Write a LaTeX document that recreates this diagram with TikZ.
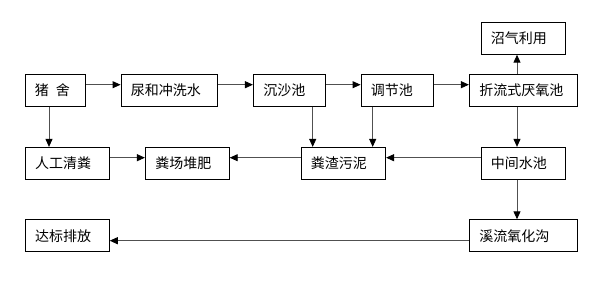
\documentclass[tikz,border=0pt]{standalone}
\usepackage{fontspec}
\newfontfamily\cjk{Noto Sans CJK SC}
\usetikzlibrary{arrows.meta}
\definecolor{linegray}{RGB}{80,80,80}

\begin{document}
\begin{tikzpicture}[x=1pt, y=-1pt, >={Triangle[length=8pt,width=7pt,color=black]},
    box/.style={draw=black, line width=0.8pt, minimum height=32pt, inner xsep=10pt, text width=#1, align=left, font=\cjk\fontsize{14}{16}\selectfont},
    arrow/.style={->, line width=0.9pt, draw=linegray}]

\useasboundingbox (0,0) rectangle (599,299);

% top row
\node [box=40.7pt] (zhushe) at (55.3,90.3) {猪\hspace{0.5em}舍};
\node [box=76.7pt] (niao) at (169.3,90.3) {尿和冲洗水};
\node [box=52.3pt] (chensha) at (289.5,90.3) {沉沙池};
\node [box=52.7pt] (tiaojie) at (397.3,90.3) {调节池};
\node [box=88pt] (yanyang) at (523.3,90.3) {折流式厌氧池};
\node [box=64.7pt] (zhaoqi) at (523.3,38.3) {沼气利用};

% middle row
\node [box=64.3pt] (rengong) at (67.2,163.3) {人工清粪};
\node [box=64pt] (fenchang) at (187.3,163.3) {粪场堆肥};
\node [box=64.7pt] (fenzha) at (343.3,163.3) {粪渣污泥};
\node [box=64.7pt] (zhongjian) at (523.3,163.3) {中间水池};

% bottom row
\node [box=64.3pt] (dabiao) at (67.2,235.7) {达标排放};
\node [box=88pt] (xiliu) at (523.3,235.7) {溪流氧化沟};

\draw [arrow] ([yshift=5.6pt]zhushe.east) -- ([yshift=5.6pt]zhushe.east -| niao.west);
\draw [arrow] ([yshift=5.6pt]niao.east) -- ([yshift=5.6pt]niao.east -| chensha.west);
\draw [arrow] ([yshift=5.6pt]chensha.east) -- ([yshift=5.6pt]chensha.east -| tiaojie.west);
\draw [arrow] ([yshift=5.6pt]tiaojie.east) -- ([yshift=5.6pt]tiaojie.east -| yanyang.west);
\draw [arrow] ([xshift=-6.3pt]yanyang.north) -- ([xshift=-6.3pt]zhaoqi.south);

\draw [arrow] ([xshift=-6.3pt]zhushe.south) -- ([xshift=-6.3pt]zhushe.south |- rengong.north);
\draw [arrow] ([xshift=23.2pt]chensha.south) -- ([xshift=23.2pt]chensha.south |- fenzha.north);
\draw [arrow] ([xshift=-24.6pt]tiaojie.south) -- ([xshift=-24.6pt]tiaojie.south |- fenzha.north);
\draw [arrow] ([xshift=-6.3pt]yanyang.south) -- ([xshift=-6.3pt]zhongjian.north);

\draw [arrow] ([yshift=5.6pt]rengong.east) -- ([yshift=5.6pt]rengong.east -| fenchang.west);
\draw [arrow] ([yshift=5.6pt]fenzha.west) -- ([yshift=5.6pt]fenzha.west -| fenchang.east);
\draw [arrow] ([yshift=5.6pt]zhongjian.west) -- ([yshift=5.6pt]zhongjian.west -| fenzha.east);
\draw [arrow] ([xshift=-6.3pt]zhongjian.south) -- ([xshift=-6.3pt]xiliu.north);

\draw [arrow] ([yshift=-5pt]xiliu.west) -- ([yshift=-5pt]xiliu.west -| dabiao.east);

\end{tikzpicture}
\end{document}
